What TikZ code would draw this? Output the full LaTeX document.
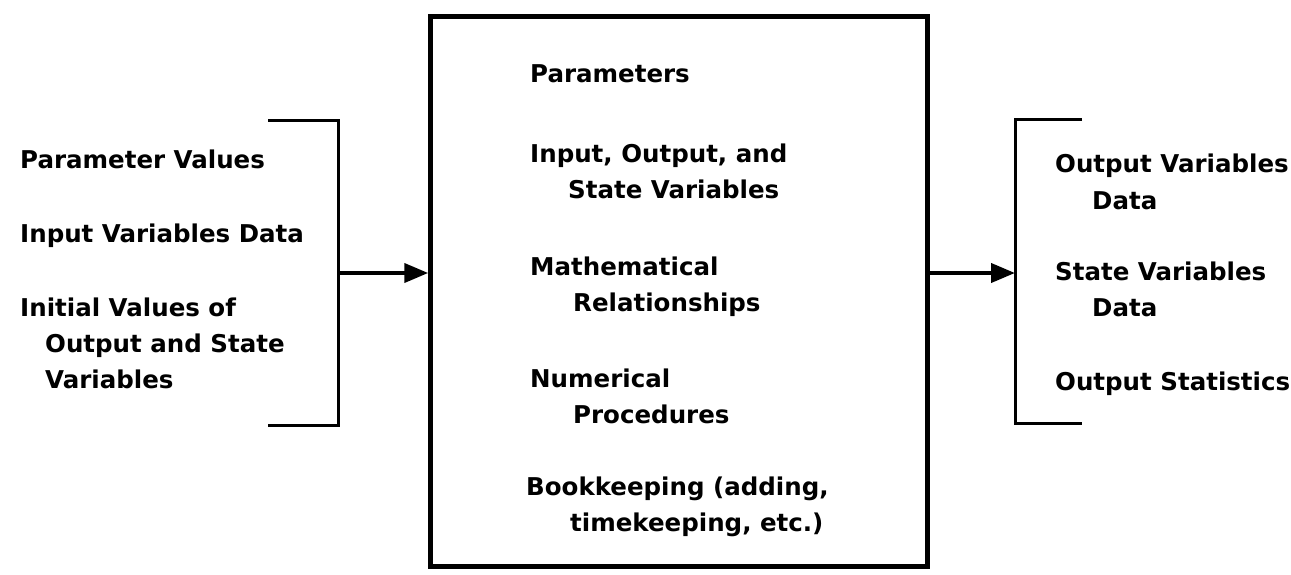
\documentclass[tikz,border=0pt]{standalone}
\usepackage{fontspec}
\setmainfont{DejaVu Sans}
\usetikzlibrary{arrows.meta}
\tikzset{
  label text/.style={anchor=base west, inner sep=0pt, align=left,
    font=\bfseries\fontsize{24.5}{36}\selectfont},
  bracket line/.style={line width=3pt},
  flow arrow/.style={line width=4pt, -{Triangle[length=24pt,width=19pt]}},
}
\begin{document}
\begin{tikzpicture}[x=1pt,y=-1pt]
  \useasboundingbox (0,0) rectangle (1291,575);

  % central model box
  \node[draw, line width=4.5pt, minimum width=497pt, minimum height=550pt,
        inner sep=0pt] (box) at (679,291.5) {};

  % inputs (multi-line nodes sit on the baseline of their last line)
  \node[label text] (pv) at (20,168) {Parameter Values};
  \node[label text] (ivd) at (20,242) {Input Variables Data};
  \node[label text] (init) at (20,388)
    {Initial Values of\\\hspace*{25pt}Output and State\\\hspace*{25pt}Variables};

  % model contents
  \node[label text] (par) at (530,83) {Parameters};
  \node[label text] (vars) at (530,199) {Input, Output, and\\\hspace*{38pt}State Variables};
  \node[label text] (math) at (530,311) {Mathematical\\\hspace*{43pt}Relationships};
  \node[label text] (num) at (530,423) {Numerical\\\hspace*{43pt}Procedures};
  \node[label text] (book) at (526,531) {Bookkeeping (adding,\\\hspace*{44pt}timekeeping, etc.)};

  % outputs
  \node[label text] (ovd) at (1055,209) {Output Variables\\\hspace*{37pt}Data};
  \node[label text] (svd) at (1055,316) {State Variables\\\hspace*{37pt}Data};
  \node[label text] (ost) at (1055,390) {Output Statistics};

  % brackets gathering the inputs and outputs
  \coordinate (lin) at (338,273);
  \coordinate (rout) at (1015,273);
  \draw[bracket line] (268,121) -| (338,425) -- (268,425);
  \draw[bracket line] (1082,120) -| (1015,423) -- (1082,423);

  % flow into and out of the model
  \draw[flow arrow] (lin) -- (lin -| box.west);
  \draw[flow arrow] (rout -| box.east) -- (rout);
\end{tikzpicture}
\end{document}
